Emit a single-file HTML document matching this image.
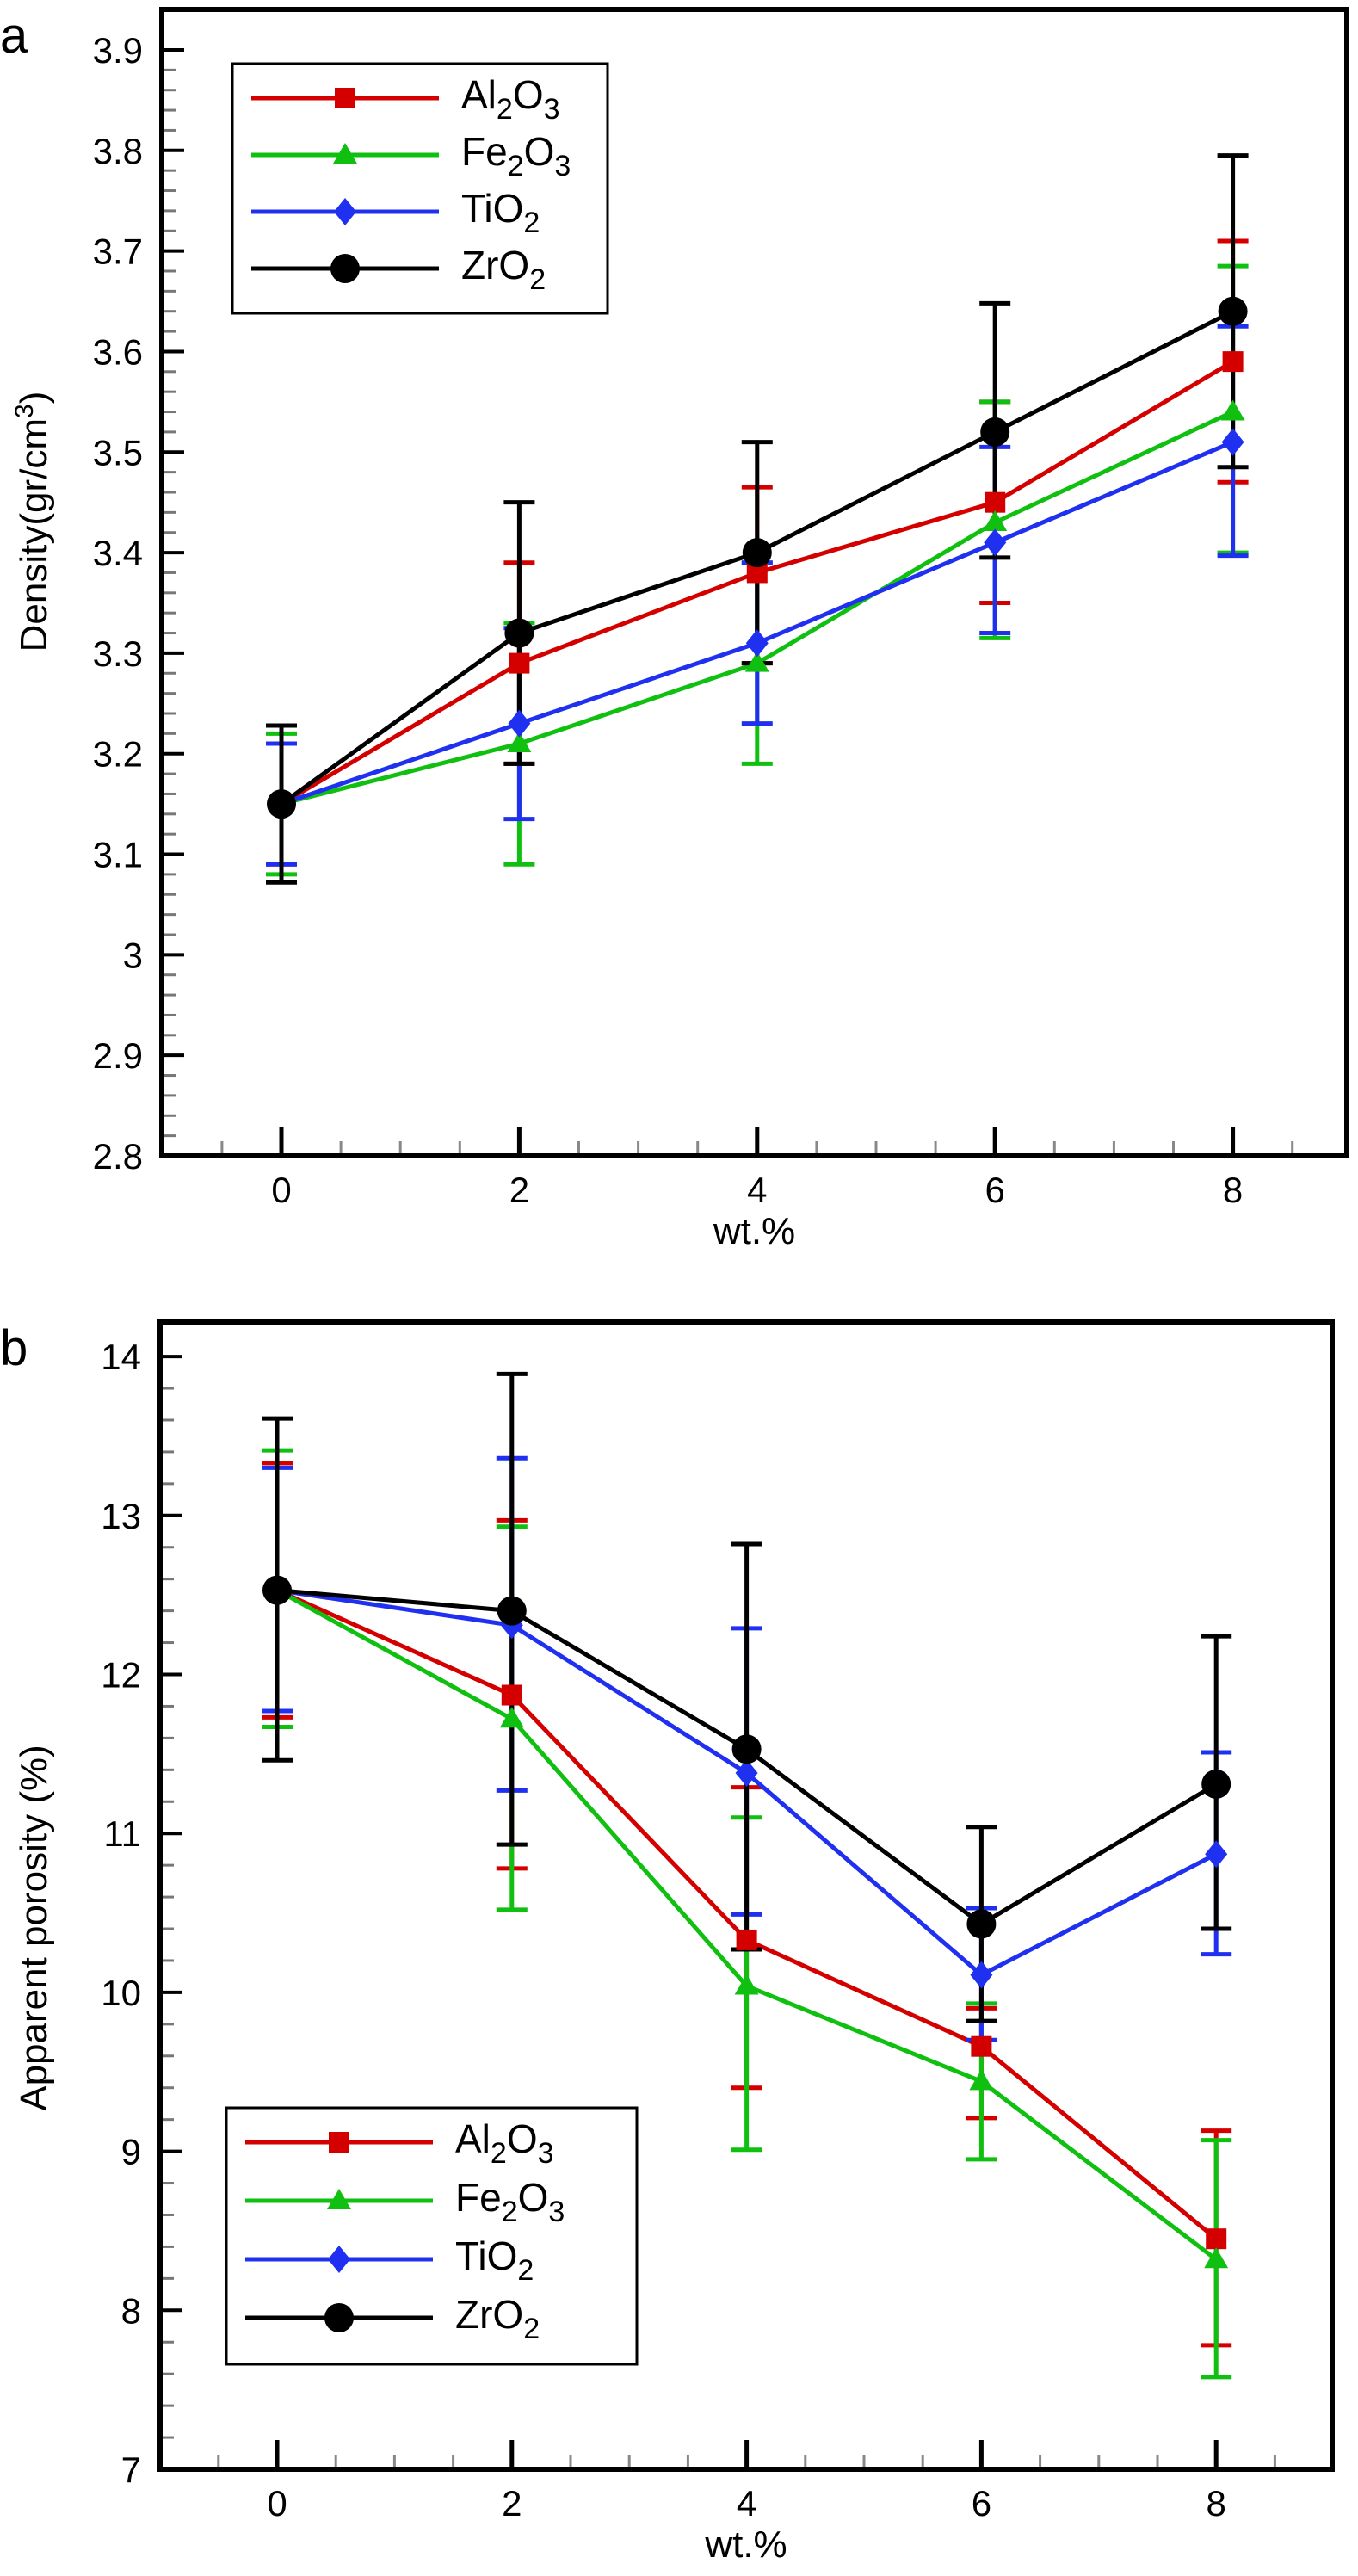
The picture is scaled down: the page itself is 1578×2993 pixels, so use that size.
<!DOCTYPE html>
<html><head><meta charset="utf-8"><style>html,body{margin:0;padding:0;background:#fff}svg{display:block}text{font-family:"Liberation Sans",Arial,sans-serif}</style></head>
<body>
<svg id="s" width="1578" height="2993" xmlns="http://www.w3.org/2000/svg"></svg>
<script>
const s=document.getElementById('s');let h='';
const C={Al:'#d40000',Fe:'#10c010',Ti:'#2030f0',Zr:'#000'};
function panel(P){
 const X=v=>P.x0+v*P.xu, Y=v=>P.yb-(v-P.ymin)*P.yu;
 for(let v=P.ymin;v<=P.ymax+1e-9;v+=P.ym){h+=`<line x1="${P.L}" x2="${P.L+16}" y1="${Y(v)}" y2="${Y(v)}" stroke="#777" stroke-width="3"/>`;}
 for(let v=P.ymin;v<=P.ymax+1e-9;v+=P.yM){h+=`<line x1="${P.L}" x2="${P.L+26}" y1="${Y(v)}" y2="${Y(v)}" stroke="#000" stroke-width="4"/><text x="${P.L-22}" y="${Y(v)+15}" font-size="42" text-anchor="end">${P.fmt(v)}</text>`;}
 for(let v=-0.5;v<=8.6;v+=0.5){const M=Math.abs(v-Math.round(v/2)*2)<1e-9&&v>=0;h+=`<line x1="${X(v)}" x2="${X(v)}" y1="${P.yb}" y2="${P.yb-(M?34:17)}" stroke="${M?'#000':'#888'}" stroke-width="${M?5:3}"/>`;if(M)h+=`<text x="${X(v)}" y="${P.yb+54}" font-size="42" text-anchor="middle">${v}</text>`;}
 h+=`<rect x="${P.L}" y="${P.T}" width="${P.R-P.L}" height="${P.yb-P.T}" fill="none" stroke="#000" stroke-width="6"/>`;
 h+=`<text x="${(P.L+P.R)/2}" y="${P.yb+102}" font-size="44" text-anchor="middle">wt.%</text>`;
 h+=`<text x="0" y="${P.T+50}" font-size="58">${P.lab}</text>`;
 h+=`<text transform="translate(54,${P.ylc}) rotate(-90)" font-size="44" text-anchor="middle">${P.ylab}</text>`;
 const xs=[0,2,4,6,8];
 for(const k of ['Al','Fe','Ti','Zr']){const d=P.d[k];
  h+=`<polyline fill="none" stroke="${C[k]}" stroke-width="5" points="${xs.map((x,i)=>X(x)+','+Y(d[i][0])).join(' ')}"/>`;
  xs.forEach((x,i)=>{const [v,lo,hi]=d[i];const xx=X(x);h+=`<line x1="${xx}" x2="${xx}" y1="${Y(lo)}" y2="${Y(hi)}" stroke="${C[k]}" stroke-width="5"/><line x1="${xx-18}" x2="${xx+18}" y1="${Y(lo)}" y2="${Y(lo)}" stroke="${C[k]}" stroke-width="5"/><line x1="${xx-18}" x2="${xx+18}" y1="${Y(hi)}" y2="${Y(hi)}" stroke="${C[k]}" stroke-width="5"/>`;});
 }
 for(const k of ['Al','Fe','Ti','Zr']){P.d[k].forEach((p,i)=>{h+=mk(k,X(xs[i]),Y(p[0]));});}
 const g=P.lg;h+=`<rect x="${g.x}" y="${g.y}" width="${g.w}" height="${g.h}" fill="#fff" stroke="#000" stroke-width="3"/>`;
 const nm={Al:['Al','2','O','3'],Fe:['Fe','2','O','3'],Ti:['TiO','2'],Zr:['ZrO','2']};
 ['Al','Fe','Ti','Zr'].forEach((k,i)=>{const yy=g.y+40+i*g.dy;h+=`<line x1="${g.x+22}" x2="${g.x+240}" y1="${yy}" y2="${yy}" stroke="${C[k]}" stroke-width="5"/>`+mk(k,g.x+131,yy);
  const n=nm[k];let t=`<text x="${g.x+266}" y="${yy+12}" font-size="46">${n[0]}<tspan dy="12" font-size="34">${n[1]}</tspan>`;if(n[2])t+=`<tspan dy="-12">${n[2]}</tspan><tspan dy="12" font-size="34">${n[3]}</tspan>`;h+=t+'</text>';});
}
function mk(k,x,y){const c=C[k];if(k=='Al')return `<rect x="${x-12}" y="${y-12}" width="24" height="24" fill="${c}"/>`;
 if(k=='Fe')return `<polygon points="${x},${y-14} ${x+14},${y+10} ${x-14},${y+10}" fill="${c}"/>`;
 if(k=='Ti')return `<polygon points="${x},${y-16} ${x+13},${y} ${x},${y+16} ${x-13},${y}" fill="${c}"/>`;
 return `<circle cx="${x}" cy="${y}" r="17" fill="#000"/>`;}
panel({L:188,R:1565,T:11,yb:1343,x0:327,xu:138.2,ymin:2.8,ymax:3.9,yu:1168.2,ym:0.02,yM:0.1,fmt:v=>{let r=Math.round(v*10)/10;return r==3?'3':r.toFixed(1)},lab:'a',ylab:'Density(gr/cm<tspan dy="-16" font-size="30">3</tspan><tspan dy="16">)</tspan>',ylc:606,
 lg:{x:270,y:74,w:436,h:290,dy:66},
 d:{Al:[[3.15,3.09,3.21],[3.29,3.19,3.39],[3.38,3.29,3.465],[3.45,3.35,3.55],[3.59,3.47,3.71]],
 Fe:[[3.15,3.08,3.22],[3.21,3.09,3.33],[3.29,3.19,3.39],[3.43,3.315,3.55],[3.54,3.40,3.685]],
 Ti:[[3.15,3.09,3.21],[3.23,3.135,3.325],[3.31,3.23,3.39],[3.41,3.32,3.505],[3.51,3.397,3.625]],
 Zr:[[3.15,3.072,3.228],[3.32,3.19,3.45],[3.40,3.29,3.51],[3.52,3.395,3.648],[3.64,3.485,3.795]]}});
panel({L:186,R:1548,T:1536,yb:2869,x0:322,xu:136.4,ymin:7,ymax:14,yu:184.7,ym:0.2,yM:1,fmt:v=>Math.round(v),lab:'b',ylab:'Apparent porosity (%)',ylc:2240,
 lg:{x:263,y:2449,w:477,h:298,dy:68},
 d:{Al:[[12.53,11.73,13.33],[11.87,10.78,12.97],[10.33,9.4,11.29],[9.66,9.21,9.9],[8.45,7.78,9.13]],
 Fe:[[12.53,11.67,13.41],[11.72,10.52,12.93],[10.04,9.01,11.1],[9.44,8.95,9.93],[8.32,7.58,9.07]],
 Ti:[[12.53,11.77,13.3],[12.31,11.27,13.36],[11.38,10.49,12.29],[10.11,9.7,10.53],[10.87,10.24,11.51]],
 Zr:[[12.53,11.46,13.61],[12.4,10.93,13.89],[11.53,10.27,12.82],[10.43,9.82,11.04],[11.31,10.4,12.24]]}});
s.innerHTML=h;
</script>
</body></html>
